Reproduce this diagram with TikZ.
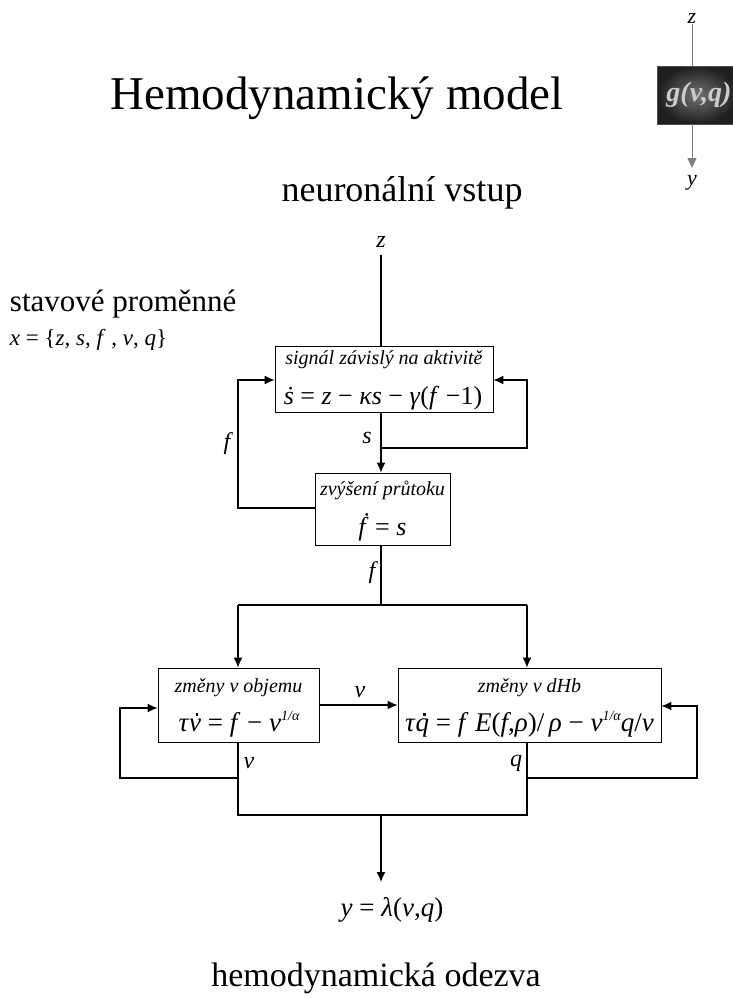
\documentclass[tikz,border=0pt]{standalone}
\usepackage{fontspec}
\setmainfont{Liberation Serif}
\usetikzlibrary{arrows.meta}
% italic letters set in the text face, so formulas match the serif labels
\newcommand{\vi}[1]{\textit{#1}}
\newcommand{\pw}[1]{\raisebox{0.42em}{\fontsize{14}{16}\selectfont\itshape #1}}
% italic letter with a time-derivative dot laid over it
\newcommand{\dtop}[1]{\setbox0\hbox{\itshape #1}%
  \rlap{\hbox to\wd0{\hss\kern0.16em\raisebox{0.58em}{\rule{0.09em}{0.09em}}\hss}}\box0\relax}
\begin{document}
\begin{tikzpicture}[x=1pt,y=-1pt,
  line width=1.3pt,
  box/.style={draw,line width=0.9pt,inner sep=0pt},
  arr/.style={-{Latex[length=10pt,width=9pt]}},
  lbl/.style={inner sep=0pt,font=\fontsize{20}{22}\selectfont\itshape},
  eq/.style={inner sep=0pt,font=\fontsize{26}{28}\selectfont},
  var/.style={inner sep=0pt,font=\fontsize{24}{26}\selectfont\itshape},
]
\useasboundingbox (0,0) rectangle (732,999);

% headings
\node (title) at (337,98) {\fontsize{47}{52}\selectfont Hemodynamický model};
\node (input) at (402,193) {\fontsize{36}{40}\selectfont neuronální vstup};
\node[anchor=west] (state) at (6,304) {\fontsize{31}{35}\selectfont stavové proměnné};
\node[anchor=west] (stateset) at (6,340) {\fontsize{23}{26}\selectfont \vi{x} = \{\vi{z}, \vi{s}, \vi{f} , \vi{v}, \vi{q}\}};
\node (output) at (376,978) {\fontsize{34}{38}\selectfont hemodynamická odezva};

% small icon of the observation function
\node[var,font=\fontsize{22}{24}\selectfont\itshape] (iz) at (692,18) {z};
\node[box,draw=black!70,inner color=black!55,outer color=black!88,minimum width=80pt,minimum height=58pt] (g) at (697,95) {};
\node[inner sep=0pt,text=black!20,font=\fontsize{28}{30}\selectfont\bfseries\itshape] (gt) at (699,95) {g(v,q)};
\node[var,font=\fontsize{22}{24}\selectfont\itshape] (iy) at (692,183) {y};
\draw[black!50,line width=1pt] (iz) -- (g.north -| iz);
\draw[black!50,line width=1pt,-{Triangle[length=10pt,width=9pt]}] (g.south -| iz) -- (692,168);

% blocks
\node[box,minimum width=218pt,minimum height=66pt] (b1) at (384,379) {};
\node[lbl] (t1) at (384,360) {signál závislý na aktivitě};
\node[eq] (e1) at (383,398) {\vi{ṡ} = \vi{z} − \vi{κs} − \vi{γ}(\vi{f} −1)};

\node[box,minimum width=135pt,minimum height=72pt] (b2) at (382.5,509) {};
\node[lbl] (t2) at (382.5,490) {zvýšení průtoku};
\node[eq] (e2) at (382.5,527) {\vi{ḟ} = \vi{s}};

\node[box,minimum width=161pt,minimum height=74pt] (b3) at (238.5,705) {};
\node[lbl] (t3) at (238.5,688) {změny v objemu};
\node[eq,font=\fontsize{27}{29}\selectfont] (e3) at (239,724) {\vi{τ}\dtop{v} = \vi{f} − \vi{v}\pw{1/α}};

\node[box,minimum width=263pt,minimum height=74pt] (b4) at (529.5,705) {};
\node[lbl] (t4) at (529.5,688) {změny v dHb};
\node[eq,font=\fontsize{27}{29}\selectfont] (e4) at (529.5,724) {\vi{τ}\dtop{q} = \vi{f} \vi{E}(\vi{f},\vi{ρ})/\,\vi{ρ} − \vi{v}\pw{1/α}\vi{q}/\vi{v}};

% junction points
\coordinate (zs) at (381,255);
\coordinate (js) at (381,448);
\coordinate (jf) at (381,605);
\coordinate (jfl) at (238,605);
\coordinate (jfr) at (527,605);
\coordinate (jv) at (238,778);
\coordinate (jq) at (527,778);
\coordinate (jy) at (381,815);
\coordinate (yend) at (381,882);

% variable labels
\node[var] (lz) at (381,242) {z};
\node[var] (ls) at (367,438) {s};
\node[var] (lf1) at (227,444) {f};
\node[var] (lf2) at (372,573) {f};
\node[var] (lv1) at (360,692) {v};
\node[var] (lv2) at (249,763) {v};
\node[var] (lq) at (516,763) {q};
\node[eq,font=\fontsize{27}{29}\selectfont] (yout) at (392,910) {\vi{y} = \vi{λ}(\vi{v},\vi{q})};

% connectors
\draw (zs) -- (b1.north -| zs);
\draw[arr] (b1.south -| zs) -- (b2.north -| zs);
\draw[arr] (js) -- (527,448) -- (527,380) -- (b1.east |- 0,380);
\draw[arr] (b2.west |- 0,508) -- (238,508) -- (238,380) -- (b1.west |- 0,380);
\draw (b2.south -| jf) -- (jf);
\draw (jfl) -- (jfr);
\draw[arr] (jfl) -- (b3.north -| jfl);
\draw[arr] (jfr) -- (b4.north -| jfr);
\draw[arr] (b3.east |- 0,705) -- (b4.west |- 0,705);
\draw[arr] (jv) -- (120,778) -- (120,708) -- (b3.west |- 0,708);
\draw[arr] (jq) -- (697,778) -- (697,706) -- (b4.east |- 0,706);
\draw (b3.south -| jv) -- (238,815) -- (527,815) -- (b4.south -| jq);
\draw[arr] (jy) -- (yend);
\end{tikzpicture}
\end{document}
